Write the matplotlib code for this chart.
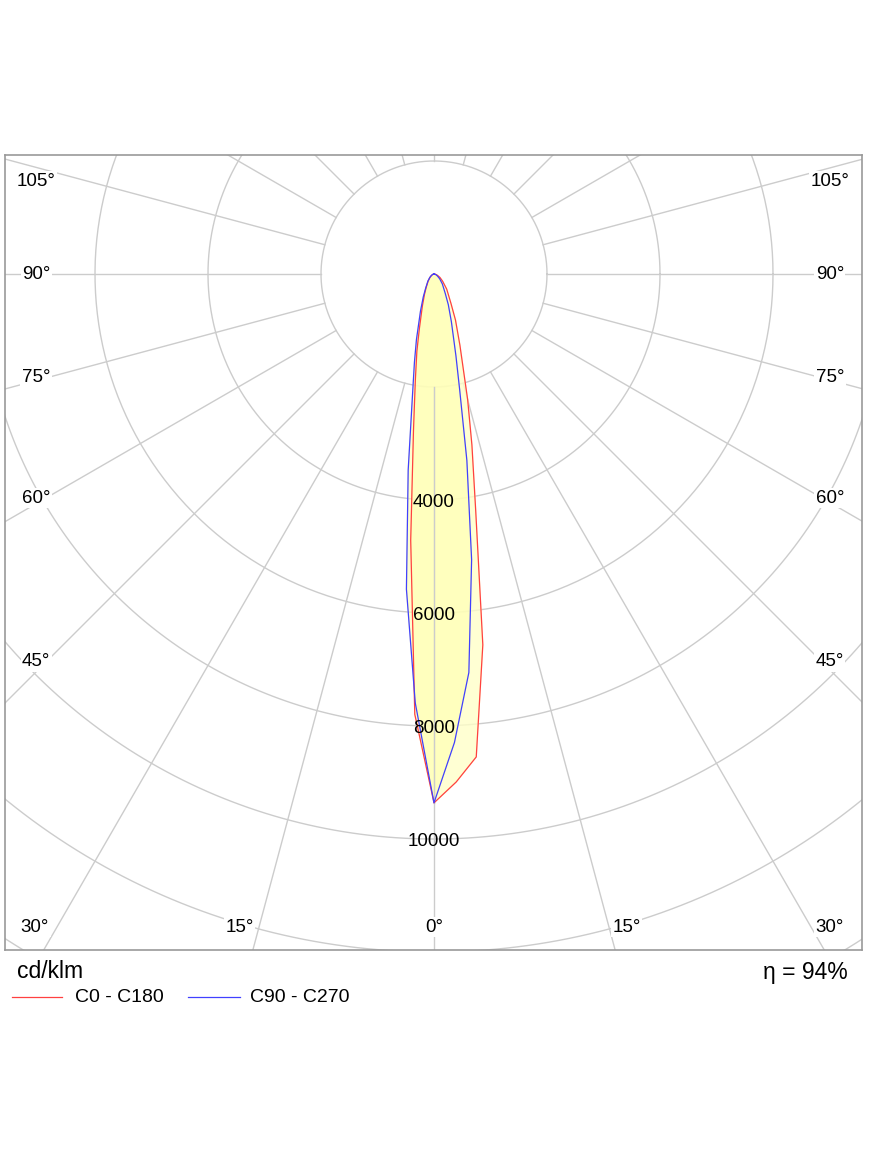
import numpy as np
import matplotlib
matplotlib.use("Agg")
import matplotlib.pyplot as plt

plt.rcParams['font.family'] = ['Liberation Sans', 'DejaVu Sans']

gamma = [0, 2.5, 5, 7.5, 10, 12.5, 15, 20, 25, 30, 40, 50, 60, 70, 80, 90]
c0 = [9360, 9000, 8580, 6620, 4250, 3100, 2300, 1340, 900, 600, 350, 200, 120, 60, 25, 0]
c180 = [9360, 7800, 4730, 2780, 1900, 1400, 1000, 600, 400, 280, 160, 90, 50, 25, 10, 0]
c90 = [9360, 8300, 7080, 5100, 3350, 2100, 1500, 900, 600, 400, 230, 130, 70, 35, 15, 0]
c270 = [9360, 7600, 5600, 3500, 2200, 1600, 1200, 700, 450, 300, 170, 100, 55, 28, 12, 0]
rings = [2000, 4000, 6000, 8000, 10000, 12000, 14000, 16000]
ring_labels = [4000, 6000, 8000, 10000]
eta = "η = 94%"

W, H = 875, 1166
fig = plt.figure(figsize=(W/100, H/100), dpi=100)
L, R, T, B = 5, 862, 155, 950
ax = fig.add_axes([L/W, 1-B/H, (R-L)/W, (B-T)/H])
s = 2000/113.0
ax.set_xlim((L-434)*s, (R-434)*s)
ax.set_ylim(-(B-274)*s, (274-T)*s)
ax.set_aspect('auto')
ax.set_xticks([]); ax.set_yticks([])
for sp in ax.spines.values():
    sp.set_color('#999999'); sp.set_linewidth(1.2)

gc = '#cccccc'
t = np.linspace(0, 2*np.pi, 400)
for r in rings:
    ax.plot(r*np.cos(t), r*np.sin(t), color=gc, lw=1, zorder=1)
for a in range(0, 360, 15):
    ar = np.radians(a)
    ax.plot([2000*np.sin(ar), 20000*np.sin(ar)], [-2000*np.cos(ar), -20000*np.cos(ar)],
            color=gc, lw=1, zorder=1)

def xy(g, v, side):
    g = np.radians(np.array(g)); v = np.array(v)
    return side*v*np.sin(g), -v*np.cos(g)

def curve(right, left):
    xr, yr = xy(gamma, right, 1)
    xl, yl = xy(gamma, left, -1)
    return np.concatenate([xl[::-1], xr]), np.concatenate([yl[::-1], yr])

xa, ya = curve(c0, c180)
xb, yb = curve(c90, c270)
ax.fill(xa, ya, color='#ffffc8', zorder=2, alpha=0.8)
ax.fill(xb, yb, color='#ffffb0', zorder=2, alpha=0.6)
ax.plot([0, 0], [-2000, -9360], color=gc, lw=1, zorder=2.5)
ax.plot(xa, ya, color='#ff4040', lw=0.9, zorder=3)
ax.plot(xb, yb, color='#4040ff', lw=0.9, zorder=3)

for v in ring_labels:
    ax.text(0, -v - 50, str(v), ha='center', va='center', fontsize=13.5, zorder=4)

def px(x, y):
    return ((x-434)*s, -(y-274)*s)

for lab, y in [("105°", 181), ("90°", 274), ("75°", 377), ("60°", 498), ("45°", 662)]:
    ax.text(*px(36, y), lab, ha='center', va='center', fontsize=13.5, zorder=4,
            bbox=dict(fc='white', ec='none', pad=1))
    ax.text(*px(830, y), lab, ha='center', va='center', fontsize=13.5, zorder=4,
            bbox=dict(fc='white', ec='none', pad=1))
for lab, x in [("30°", 35), ("15°", 240), ("0°", 434), ("15°", 627), ("30°", 830)]:
    ax.text(*px(x, 927), lab, ha='center', va='center', fontsize=13.5, zorder=4,
            bbox=dict(fc='white', ec='none', pad=1))

fig.text(17/W, 1-972/H, "cd/klm", ha='left', va='center', fontsize=16.5)
fig.text(848/W, 1-972/H, eta, ha='right', va='center', fontsize=16.5)
fig.add_artist(plt.Line2D([12/W, 62/W], [1-997/H]*2, color='#ff4040', lw=0.9))
fig.text(75/W, 1-998/H, "C0 - C180", ha='left', va='center', fontsize=14)
fig.add_artist(plt.Line2D([188/W, 240/W], [1-997/H]*2, color='#4040ff', lw=0.9))
fig.text(250/W, 1-998/H, "C90 - C270", ha='left', va='center', fontsize=14)

fig.savefig("out.png", dpi=100)
